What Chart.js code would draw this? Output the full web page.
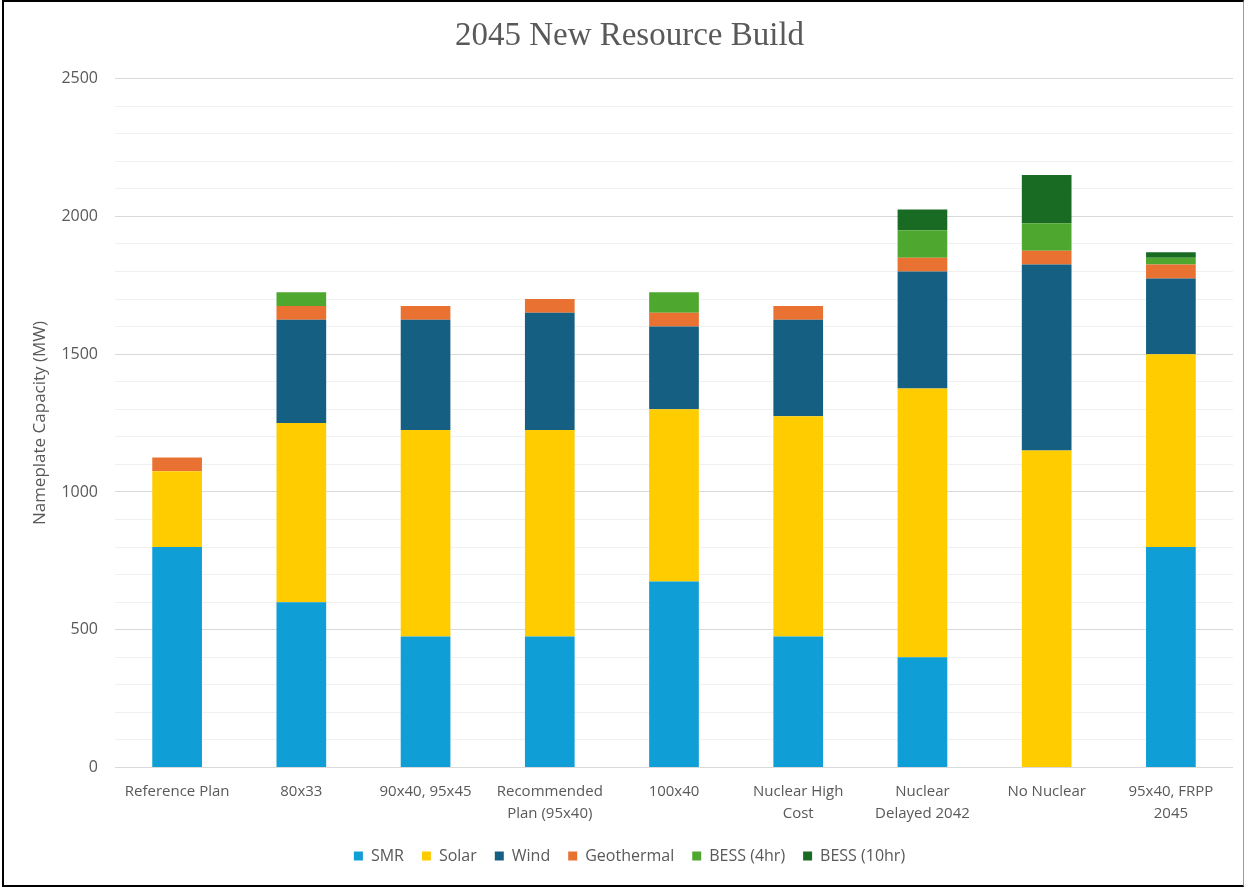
<!DOCTYPE html>
<html>
<head>
<meta charset="utf-8">
<script src="https://cdn.jsdelivr.net/npm/chart.js@4.4.1/dist/chart.umd.min.js"></script>
<style>
  html, body { margin: 0; padding: 0; background: #fff; }
  #wrap { position: relative; width: 1252px; height: 888px; }
  #frame {
    position: absolute; left: 2px; top: 0; width: 1242px; height: 887px;
    border-left: 2px solid #000; border-top: 2px solid #000; border-bottom: 2px solid #000;
    border-right: 1px solid #9a9a9a; pointer-events: none; box-sizing: border-box;
  }
  canvas { display: block; }
</style>
</head>
<body>
<div id="wrap">
  <canvas id="chart" width="1252" height="888"></canvas>
  <div id="frame"></div>
</div>
<script>
// Scenario names along the x axis (multi-line where the label wraps)
const scenarios = [
  'Reference Plan',
  '80x33',
  '90x40, 95x45',
  ['Recommended', 'Plan (95x40)'],
  '100x40',
  ['Nuclear High', 'Cost'],
  ['Nuclear', 'Delayed 2042'],
  'No Nuclear',
  ['95x40, FRPP', '2045']
];

// New nameplate capacity by resource type (MW)
const smr        = [800, 600, 475, 475, 675, 475, 400,    0, 800];
const solar      = [275, 650, 750, 750, 625, 800, 975, 1150, 700];
const wind       = [  0, 375, 400, 425, 300, 350, 425,  675, 275];
const geothermal = [ 50,  50,  50,  50,  50,  50,  50,   50,  50];
const bess4      = [  0,  50,   0,   0,  75,   0, 100,  100,  25];
const bess10     = [  0,   0,   0,   0,   0,   0,  75,  175,  20];

// Y axis labelled every 500 MW, light grid every 100 MW
const yMin = 0, yMax = 2500, yMinorStep = 100, yMajorStep = 500;

const textGrey = '#595959';
const sans = 'Open Sans';

const series = [
  { label: 'SMR',         data: smr,        color: '#0F9ED5' },
  { label: 'Solar',       data: solar,      color: '#FFCC00' },
  { label: 'Wind',        data: wind,       color: '#156082' },
  { label: 'Geothermal',  data: geothermal, color: '#E97132' },
  { label: 'BESS (4hr)',  data: bess4,      color: '#4EA72E' },
  { label: 'BESS (10hr)', data: bess10,     color: '#196B24' }
];

new Chart(document.getElementById('chart'), {
  type: 'bar',
  data: {
    labels: scenarios,
    datasets: series.map(s => ({
      label: s.label,
      data: s.data,
      backgroundColor: s.color,
      borderWidth: 0,
      barPercentage: 0.4,
      categoryPercentage: 1.0
    }))
  },
  options: {
    responsive: false,
    animation: false,
    layout: { padding: { left: 26, right: 19, top: 8, bottom: 14 } },
    plugins: {
      title: {
        display: true,
        text: '2045 New Resource Build',
        color: textGrey,
        font: { family: 'Liberation Serif', size: 33, weight: 'normal' },
        padding: { top: 9, bottom: 22 }
      },
      legend: {
        position: 'bottom',
        labels: {
          color: textGrey,
          font: { family: sans, size: 16 },
          boxWidth: 9,
          boxHeight: 9,
          padding: 18
        }
      },
      tooltip: { enabled: false }
    },
    scales: {
      x: {
        stacked: true,
        grid: { display: false },
        border: { display: false },
        ticks: {
          color: textGrey,
          font: { family: sans, size: 15, lineHeight: 1.45 },
          maxRotation: 0, autoSkip: false, padding: 5.5
        }
      },
      y: {
        stacked: true,
        min: yMin,
        max: yMax,
        border: { display: false },
        grid: {
          drawTicks: false,
          color: ctx => (ctx.tick && ctx.tick.value % yMajorStep === 0) ? '#d9d9d9' : '#f0f0f0',
          lineWidth: 1
        },
        ticks: {
          stepSize: yMinorStep,
          autoSkip: false,
          color: textGrey,
          font: { family: sans, size: 16 },
          padding: 17,
          callback: v => (v % yMajorStep === 0 ? String(v) : '')
        },
        title: {
          display: true,
          text: 'Nameplate Capacity (MW)',
          color: textGrey,
          font: { family: sans, size: 17 }
        },
        afterFit: scale => { scale.width = 89; }
      }
    }
  }
});
</script>
</body>
</html>
